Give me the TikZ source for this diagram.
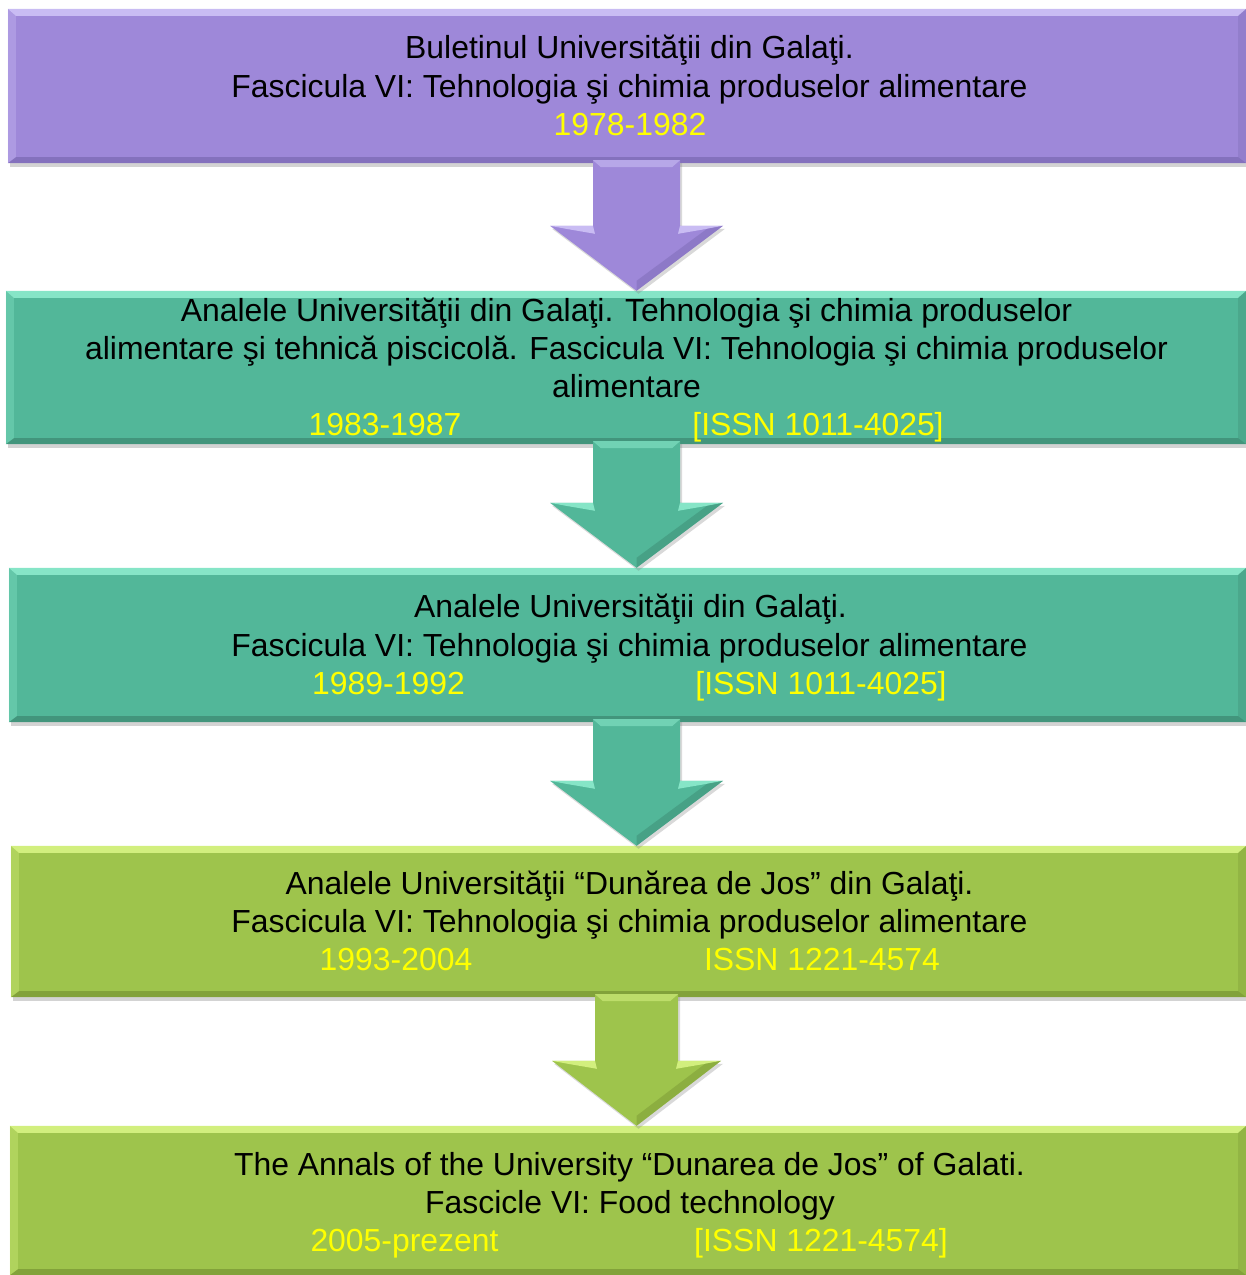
\documentclass[tikz,border=0pt]{standalone}
\usepackage{fontspec}
\setmainfont{Liberation Sans}
\usetikzlibrary{calc,shadows}
\definecolor{pur}{HTML}{9E88D9}
\definecolor{purL}{HTML}{C9BCF3}
\definecolor{purD}{HTML}{7E6CB6}
\definecolor{tea}{HTML}{52B799}
\definecolor{teaL}{HTML}{86E5C7}
\definecolor{teaD}{HTML}{3E8D75}
\definecolor{grn}{HTML}{9EC44C}
\definecolor{grnL}{HTML}{D2EF7E}
\definecolor{grnD}{HTML}{7C9A36}
\definecolor{yel}{HTML}{FFFF00}
\newcommand\mybevel[3]{%
  \fill[#2] (#1.north west) -- (#1.north east) -- ($(#1.north east)+(-8,7)$) -- ($(#1.north west)+(8,7)$) -- cycle;
  \fill[#3,opacity=0.8] (#1.south west) -- (#1.south east) -- ($(#1.south east)+(-8,-6)$) -- ($(#1.south west)+(8,-6)$) -- cycle;
  \fill[#2,opacity=0.35] (#1.north west) -- ($(#1.north west)+(8,7)$) -- ($(#1.south west)+(8,-6)$) -- (#1.south west) -- cycle;
  \fill[#3,opacity=0.35] (#1.north east) -- ($(#1.north east)+(-8,7)$) -- ($(#1.south east)+(-8,-6)$) -- (#1.south east) -- cycle;
}
\newcommand\myarrow[6]{% from, to, fill, light, dark, half-shaft
  \path let \p1=(#1.south -| ax), \p2=(#2.north -| ax) in
    coordinate (s1) at (\x1-#6pt,\y1+3pt) coordinate (s2) at (\x1+#6pt,\y1+3pt)
    coordinate (h2) at (\x1+#6pt,\y2+65pt) coordinate (h3) at (\x1+#6pt+43pt,\y2+65pt)
    coordinate (tp) at (\x1,\y2) coordinate (h4) at (\x1-#6pt-43pt,\y2+65pt)
    coordinate (h1) at (\x1-#6pt,\y2+65pt);
  \fill[#3,drop shadow={shadow xshift=2pt,shadow yshift=-3pt,opacity=0.3}] (s1) -- (s2) -- (h2) -- (h3) -- (tp) -- (h4) -- (h1) -- cycle;
  \fill[#4] (h4) -- (h1) -- ($(h1)+(2,8)$) -- ($(h4)+(16,3)$) -- cycle;
  \fill[#4] (h3) -- (h2) -- ($(h2)+(-2,8)$) -- ($(h3)+(-16,3)$) -- cycle;
  \fill[#4,opacity=0.6] (s1) -- (s2) -- ($(s2)+(-8,7)$) -- ($(s1)+(8,7)$) -- cycle;
  \fill[#5,opacity=0.5] ($(h3)+(-16,3)$) -- (h3) -- (tp) -- ($(tp)+(0,-10)$) -- cycle;
}
\begin{document}
\begin{tikzpicture}[x=1pt,y=-1pt,
  box/.style={rectangle,inner sep=0pt,draw=none,drop shadow={shadow xshift=2pt,shadow yshift=-4pt,opacity=0.35}},
  txt/.style={font=\fontsize{31.9}{38}\selectfont,anchor=base,inner sep=0pt,text=black},
  ytxt/.style={txt,text=yel}]
\useasboundingbox (0,0) rectangle (1246,1275);
\coordinate (ax) at (636.5,0);
\node[box,fill=pur,minimum width=1238pt,minimum height=154pt] (b1) at (627,86) {};
\node[box,fill=tea,minimum width=1240pt,minimum height=153pt] (b2) at (626,367.5) {};
\node[box,fill=tea,minimum width=1237pt,minimum height=154pt] (b3) at (627.5,645) {};
\node[box,fill=grn,minimum width=1235pt,minimum height=151pt] (b4) at (628.5,921.5) {};
\node[box,fill=grn,minimum width=1236pt,minimum height=149pt] (b5) at (628,1200.5) {};
\mybevel{b1}{purL}{purD}
\mybevel{b2}{teaL}{teaD}
\mybevel{b3}{teaL}{teaD}
\mybevel{b4}{grnL}{grnD}
\mybevel{b5}{grnL}{grnD}
\myarrow{b1}{b2}{pur}{purL}{purD}{43.5}
\myarrow{b2}{b3}{tea}{teaL}{teaD}{43.5}
\myarrow{b3}{b4}{tea}{teaL}{teaD}{43.5}
\myarrow{b4}{b5}{grn}{grnL}{grnD}{41.5}
% box 1
\node[txt] (t1a) at (629.5,58) {Buletinul Universităţii din Galaţi.};
\node[txt] (t1b) at (629.5,97) {Fascicula VI: Tehnologia şi chimia produselor alimentare};
\node[ytxt] (t1c) at (630,135) {1978-1982};
% box 2
\node[txt] (t2a) at (626.5,321) {Analele Universităţii din Galaţi. Tehnologia şi chimia produselor};
\node[txt] (t2b) at (626.5,359) {alimentare şi tehnică piscicolă. Fascicula VI: Tehnologia şi chimia produselor};
\node[txt] (t2c) at (626.5,397) {alimentare};
\node[ytxt] (t2d) at (385,435) {1983-1987};
\node[ytxt] (t2e) at (818,435) {[ISSN 1011-4025]};
% box 3
\node[txt] (t3a) at (630.5,617) {Analele Universităţii din Galaţi.};
\node[txt] (t3b) at (629.5,656) {Fascicula VI: Tehnologia şi chimia produselor alimentare};
\node[ytxt] (t3c) at (388.5,694) {1989-1992};
\node[ytxt] (t3d) at (821,694) {[ISSN 1011-4025]};
% box 4
\node[txt] (t4a) at (629.5,894) {Analele Universităţii “Dunărea de Jos” din Galaţi.};
\node[txt] (t4b) at (629.5,932) {Fascicula VI: Tehnologia şi chimia produselor alimentare};
\node[ytxt] (t4c) at (396,970) {1993-2004};
\node[ytxt] (t4d) at (822,970) {ISSN 1221-4574};
% box 5
\node[txt] (t5a) at (629.5,1175) {The Annals of the University “Dunarea de Jos” of Galati.};
\node[txt] (t5b) at (630,1213) {Fascicle VI: Food technology};
\node[ytxt] (t5c) at (404.5,1251) {2005-prezent};
\node[ytxt] (t5d) at (821,1251) {[ISSN 1221-4574]};
\end{tikzpicture}
\end{document}
